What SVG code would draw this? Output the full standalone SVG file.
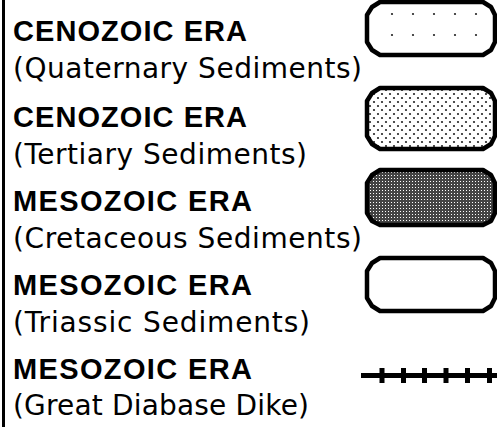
<svg xmlns="http://www.w3.org/2000/svg" width="497" height="427" viewBox="0 0 497 427">
<defs>
<pattern id="stipple" patternUnits="userSpaceOnUse" x="0" y="0" width="8" height="8">
<circle cx="2" cy="2" r="1.1" fill="#222"/>
<circle cx="6" cy="6" r="1.1" fill="#222"/>
</pattern>
<pattern id="dark" patternUnits="userSpaceOnUse" x="0" y="0" width="3" height="3">
<rect width="3" height="3" fill="#444"/>
<rect x="1" y="1" width="1" height="1" fill="#ffffff"/>
</pattern>
</defs>
<style>
.bar{stroke:#000;stroke-width:3}
.era{font-family:"Liberation Sans",Arial,sans-serif;font-weight:bold;font-size:29px;fill:#000}
.sub{font-family:"DejaVu Sans","Liberation Sans",sans-serif;font-size:28px;fill:#000}
.box{stroke:#000;stroke-width:4.5;stroke-linejoin:round}
.dot{fill:#222}
.dike{stroke:#000;stroke-width:5;fill:none}
</style>
<rect width="497" height="427" fill="#fff"/>
<line class="bar" x1="3.5" y1="0" x2="3.5" y2="427"/>

<g id="row-quaternary">
<text class="era" x="13" y="41" textLength="234" lengthAdjust="spacing">CENOZOIC ERA</text>
<text class="sub" x="13" y="78" textLength="349" lengthAdjust="spacing">(Quaternary Sediments)</text>
<path class="box" fill="#fff" d="M380,2 H483 L491,7 495,15 V42 L491,50 483,55 H380 L372,50 367,42 V15 L372,7 Z"/>
<circle class="dot" cx="392" cy="14" r="1.1"/><circle class="dot" cx="413" cy="14" r="1.1"/><circle class="dot" cx="434" cy="14" r="1.1"/><circle class="dot" cx="455" cy="14" r="1.1"/><circle class="dot" cx="476" cy="14" r="1.1"/>
<circle class="dot" cx="392" cy="35" r="1.1"/><circle class="dot" cx="413" cy="35" r="1.1"/><circle class="dot" cx="434" cy="35" r="1.1"/><circle class="dot" cx="455" cy="35" r="1.1"/><circle class="dot" cx="476" cy="35" r="1.1"/>
</g>

<g id="row-tertiary">
<text class="era" x="13" y="127" textLength="234" lengthAdjust="spacing">CENOZOIC ERA</text>
<text class="sub" x="13" y="164" textLength="294" lengthAdjust="spacing">(Tertiary Sediments)</text>
<path class="box" fill="url(#stipple)" d="M380,88 H483 L491,93 495,101 V136 L491,144 483,149 H380 L372,144 367,136 V101 L372,93 Z"/>
</g>

<g id="row-cretaceous">
<text class="era" x="13" y="211" textLength="239" lengthAdjust="spacing">MESOZOIC ERA</text>
<text class="sub" x="13" y="248" textLength="349" lengthAdjust="spacing">(Cretaceous Sediments)</text>
<path class="box" fill="url(#dark)" d="M380,170 H483 L491,175 495,183 V213 L491,221 483,225 H380 L372,221 367,213 V183 L372,175 Z"/>
</g>

<g id="row-triassic">
<text class="era" x="13" y="295" textLength="239" lengthAdjust="spacing">MESOZOIC ERA</text>
<text class="sub" x="13" y="332" textLength="297" lengthAdjust="spacing">(Triassic Sediments)</text>
<path class="box" fill="#fff" d="M380,258 H483 L491,263 495,271 V298 L491,306 483,311 H380 L372,306 367,298 V271 L372,263 Z"/>
</g>

<g id="row-dike">
<text class="era" x="13" y="379" textLength="239" lengthAdjust="spacing">MESOZOIC ERA</text>
<text class="sub" x="13" y="415" textLength="296" lengthAdjust="spacing">(Great Diabase Dike)</text>
<line class="dike" x1="361" y1="375.5" x2="497" y2="375.5"/>
<path class="dike" d="M382,368 V383 M403.5,368 V383 M424.5,368 V383 M446,368 V383 M467.5,368 V383 M489.5,368 V383"/>
</g>
</svg>
